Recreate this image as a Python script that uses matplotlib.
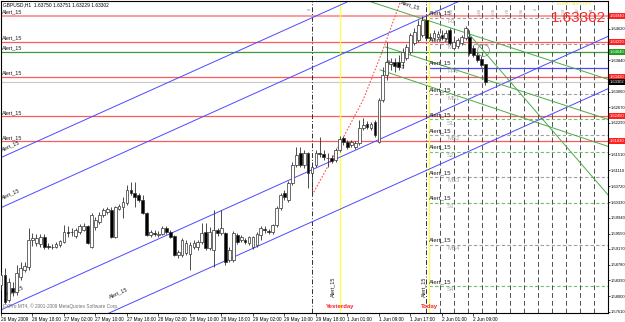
import matplotlib
matplotlib.use("Agg")
import matplotlib.pyplot as plt

plt.rcParams['font.family'] = ['Liberation Sans', 'DejaVu Sans']

title = "GBPUSD,H1  1.63750 1.63751 1.63229 1.63302"
last_price = 1.63302

# hourly candles, 26 May 10:00 .. 2 Jun 11:00
opens = [1.5828, 1.5852, 1.5791, 1.5820, 1.5810, 1.5847, 1.5865, 1.5872, 1.5939, 1.5932,
         1.5929, 1.5946, 1.5924, 1.5922, 1.5922, 1.5927, 1.5934, 1.5959, 1.5959, 1.5949,
         1.5959, 1.5964, 1.5974, 1.5922, 1.5971, 1.5984, 1.6001, 1.6008, 1.6013, 1.5946,
         1.6016, 1.6021, 1.6031, 1.6063, 1.6055, 1.6050, 1.6038, 1.6006, 1.5951, 1.5956,
         1.5951, 1.5954, 1.5969, 1.5959, 1.5949, 1.5902, 1.5902, 1.5907, 1.5904, 1.5922,
         1.5922, 1.5934, 1.5959, 1.5919, 1.5914, 1.5964, 1.5956, 1.5956, 1.5890, 1.5890,
         1.5951, 1.5939, 1.5939, 1.5932, 1.5922, 1.5927, 1.5951, 1.5966, 1.5961, 1.5959,
         1.5976, 1.6018, 1.6055, 1.6038, 1.6080, 1.6125, 1.6154, 1.6125, 1.6154, 1.6105,
         1.6125, 1.6154, 1.6152, 1.6142, 1.6142, 1.6137, 1.6162, 1.6191, 1.6182, 1.6174,
         1.6169, 1.6179, 1.6216, 1.6226, 1.6216, 1.6231, 1.6182, 1.6286, 1.6347, 1.6375,
         1.6380, 1.6380, 1.6380, 1.6389, 1.6404, 1.6427, 1.6434, 1.6446, 1.6483, 1.6441,
         1.6439, 1.6441, 1.6446, 1.6439, 1.6459, 1.6414, 1.6419, 1.6427, 1.6439, 1.6441,
         1.6414, 1.6397, 1.6387, 1.63750]
highs = [1.5860, 1.5870, 1.5845, 1.5835, 1.5877, 1.5885, 1.5885, 1.5969, 1.5956, 1.5954,
         1.5954, 1.5954, 1.5932, 1.5929, 1.5934, 1.5939, 1.5976, 1.5974, 1.5969, 1.5969,
         1.5979, 1.5981, 1.5976, 1.6006, 1.5996, 1.6008, 1.6018, 1.6021, 1.6021, 1.6023,
         1.6028, 1.6045, 1.6075, 1.6083, 1.6083, 1.6055, 1.6050, 1.6008, 1.5964, 1.5964,
         1.5961, 1.5974, 1.5974, 1.5964, 1.5951, 1.5914, 1.5944, 1.5939, 1.5934, 1.5939,
         1.5939, 1.5981, 1.5981, 1.5971, 1.6013, 1.5969, 1.6013, 1.5959, 1.5922, 1.5961,
         1.5956, 1.5951, 1.5944, 1.5949, 1.5949, 1.5959, 1.5974, 1.5974, 1.5966, 1.5979,
         1.6023, 1.6055, 1.6063, 1.6085, 1.6132, 1.6169, 1.6169, 1.6162, 1.6157, 1.6132,
         1.6162, 1.6194, 1.6162, 1.6154, 1.6149, 1.6167, 1.6196, 1.6196, 1.6187, 1.6187,
         1.6184, 1.6236, 1.6241, 1.6234, 1.6231, 1.6236, 1.6290, 1.6367, 1.6429, 1.6389,
         1.6389, 1.6397, 1.6414, 1.6424, 1.6451, 1.6464, 1.6483, 1.6493, 1.6496, 1.6451,
         1.6459, 1.6456, 1.6459, 1.6459, 1.6464, 1.6434, 1.6439, 1.6446, 1.6469, 1.6459,
         1.6422, 1.6404, 1.6394, 1.63751]
lows = [1.5815, 1.5781, 1.5786, 1.5800, 1.5803, 1.5840, 1.5860, 1.5865, 1.5924, 1.5924,
        1.5922, 1.5917, 1.5917, 1.5917, 1.5919, 1.5922, 1.5932, 1.5946, 1.5949, 1.5944,
        1.5954, 1.5961, 1.5929, 1.5919, 1.5964, 1.5979, 1.5996, 1.6003, 1.5944, 1.5944,
        1.6013, 1.5993, 1.6026, 1.6050, 1.6021, 1.6033, 1.6003, 1.5949, 1.5946, 1.5949,
        1.5946, 1.5951, 1.5954, 1.5944, 1.5899, 1.5894, 1.5897, 1.5902, 1.5865, 1.5917,
        1.5914, 1.5929, 1.5914, 1.5914, 1.5872, 1.5949, 1.5951, 1.5877, 1.5885, 1.5885,
        1.5929, 1.5934, 1.5929, 1.5927, 1.5917, 1.5922, 1.5939, 1.5956, 1.5954, 1.5954,
        1.5971, 1.6013, 1.6038, 1.6033, 1.6075, 1.6120, 1.6120, 1.6117, 1.6068, 1.6050,
        1.6120, 1.6144, 1.6137, 1.6120, 1.6130, 1.6132, 1.6157, 1.6174, 1.6164, 1.6169,
        1.6164, 1.6174, 1.6211, 1.6214, 1.6211, 1.6194, 1.6179, 1.6281, 1.6335, 1.6360,
        1.6355, 1.6360, 1.6365, 1.6385, 1.6399, 1.6422, 1.6429, 1.6441, 1.6434, 1.6434,
        1.6434, 1.6436, 1.6434, 1.6434, 1.6422, 1.6409, 1.6414, 1.6422, 1.6434, 1.6397,
        1.6392, 1.6380, 1.6367, 1.63229]
closes = [1.5852, 1.5786, 1.5835, 1.5810, 1.5857, 1.5870, 1.5875, 1.5939, 1.5944, 1.5944,
          1.5946, 1.5922, 1.5922, 1.5921, 1.5929, 1.5936, 1.5959, 1.5956, 1.5958, 1.5964,
          1.5974, 1.5974, 1.5932, 1.6001, 1.5989, 1.6001, 1.6013, 1.6016, 1.5946, 1.6021,
          1.6023, 1.6033, 1.6063, 1.6055, 1.6045, 1.6038, 1.6006, 1.5951, 1.5959, 1.5955,
          1.5954, 1.5969, 1.5959, 1.5946, 1.5902, 1.5909, 1.5939, 1.5932, 1.5927, 1.5932,
          1.5934, 1.5956, 1.5919, 1.5959, 1.5964, 1.5956, 1.5969, 1.5885, 1.5914, 1.5956,
          1.5934, 1.5946, 1.5934, 1.5946, 1.5946, 1.5954, 1.5969, 1.5964, 1.5959, 1.5976,
          1.6018, 1.6050, 1.6045, 1.6080, 1.6125, 1.6149, 1.6125, 1.6154, 1.6105, 1.6120,
          1.6154, 1.6152, 1.6144, 1.6141, 1.6135, 1.6162, 1.6189, 1.6182, 1.6169, 1.6182,
          1.6179, 1.6216, 1.6224, 1.6219, 1.6226, 1.6199, 1.6286, 1.6347, 1.6380, 1.6380,
          1.6370, 1.6367, 1.6404, 1.6417, 1.6446, 1.6454, 1.6471, 1.6483, 1.6439, 1.6440,
          1.6451, 1.6449, 1.6439, 1.6451, 1.6427, 1.6429, 1.6434, 1.6441, 1.6464, 1.6402,
          1.6397, 1.6385, 1.6372, 1.63302]

time_ticks = [0, 8, 16, 24, 32, 40, 48, 56, 64, 72, 80, 88, 96, 104, 112, 120]
time_labels = ["26 May 2009", "26 May 18:00", "27 May 02:00", "27 May 10:00", "27 May 18:00",
               "28 May 02:00", "28 May 10:00", "28 May 18:00", "29 May 02:00", "29 May 10:00",
               "29 May 18:00", "1 Jun 01:00", "1 Jun 09:00", "1 Jun 17:00", "2 Jun 01:00",
               "2 Jun 09:00"]
price_ticks = [1.6462, 1.6384, 1.6306, 1.6267, 1.6229, 1.6151, 1.6111, 1.6072, 1.6033,
               1.5994, 1.5955, 1.5917, 1.5878, 1.5839, 1.5800, 1.5761]

red_alerts = [1.6494, 1.6429, 1.6342, 1.6245, 1.6183]
green_alert = 1.6404

pivot_names = ["R1", "MR1", "FPV", "MS1", "S1", "MS2", "S2", "MS3", "S3", "MS4", "S4"]
pivot_levels = [1.6489, 1.6424, 1.6365, 1.6300, 1.6238, 1.6199, 1.6157, 1.6095, 1.6031, 1.5927, 1.5825]

blue_lines = [((0, 1.6143), (100, 1.6581)), ((0, 1.6019), (100, 1.6458)),
              ((0, 1.5766), (100, 1.6205)), ((0, 1.5638), (100, 1.6076))]
green_lines = [((92.5, 1.6533), (154.7, 1.6335)), ((97.6, 1.6417), (154.7, 1.6236)),
               ((96.3, 1.6360), (154.7, 1.6169)), ((118.4, 1.6454), (154.7, 1.6045))]
red_arc_x = [79.06, 85.4, 92.0, 96.8, 101.4]
red_arc_y = [1.6050, 1.6164, 1.6286, 1.6404, 1.6528]

sep_lines = [79.06, 108.0]
day_lines = [86.2, 108.8]
hour_lines = [111.55, 115.1, 118.65, 122.2, 125.76, 129.3, 132.87, 136.4, 139.97,
              143.5, 147.08, 150.63]
top_marks = ["8", "0.59", "1.08", "1.48", "1.68", "1.78", "1.96", "2", "2.34", "25", "84"]
top_mark_x = [79.06, 111.55, 115.1, 122.2, 125.76, 129.3, 132.87, 136.4, 143.5, 147.08, 150.63]

fig = plt.figure(figsize=(6.25, 3.22), dpi=100)
ax = fig.add_axes([1 / 625, 9 / 322, 607 / 625, 312 / 322])
ax.set_xlim(0.127, 154.19)
ax.set_ylim(1.57583, 1.65305)
for s in ax.spines.values():
    s.set_color('black')
    s.set_linewidth(0.8)

# horizontal alert lines (full width)
ax.axhline(red_alerts[0], color='#ff9a9a', lw=1.4, zorder=1)
for v in red_alerts[1:]:
    ax.axhline(v, color='#ff5a5a', lw=0.9, zorder=1)
ax.axhline(green_alert, color='#3c9a3c', lw=0.9, zorder=1)
ax.axhline(last_price, color='#c8c8c8', lw=0.8, zorder=1)

# pivot levels from today's line
for name, v in zip(pivot_names, pivot_levels):
    if name == "FPV":
        ax.hlines(v, day_lines[1], 155, color='#4a4aff', lw=0.9, zorder=1)
    elif name.startswith("S"):
        ax.hlines(v, day_lines[1], 155, color='#6cc46c', lw=0.8, linestyles=(0, (3, 2)), zorder=1)
    else:
        ax.hlines(v, day_lines[1], 155, color='#a0a0a0', lw=0.8, linestyles=(0, (3, 2)), zorder=1)
    ax.annotate("Alert_15", (day_lines[1], v), xytext=(0, 1.5), textcoords='offset points',
                fontsize=4.3, color='#202020', va='bottom', ha='left')
    ax.annotate(name, (day_lines[1] + 4.5, v), xytext=(0, -1), textcoords='offset points',
                fontsize=4.3, color='#a8a8a8', va='top', ha='left')

for v in red_alerts + [green_alert]:
    ax.annotate("Alert_15", (0.3, v), xytext=(0, 1), textcoords='offset points',
                fontsize=4.0, color='#202020', va='bottom', ha='left')

# vertical separators
for xv in sep_lines:
    ax.axvline(xv, color='#303030', lw=0.7, ls=(0, (5, 2, 1, 2)), zorder=1)
for xv in day_lines:
    ax.axvline(xv, color='#ffff40', lw=0.9, zorder=1)
for xv in hour_lines:
    ax.axvline(xv, color='#505050', lw=0.7, ls=(0, (5, 3)), zorder=1)
for t, xv in zip(top_marks, top_mark_x):
    ax.annotate(t, (xv, 1.65305), xytext=(-1.5, -5), textcoords='offset points',
                fontsize=3.0, color='#909090', rotation=90, va='top', ha='center')

# trend lines
for p1, p2 in blue_lines:
    ax.axline(p1, p2, color='#4a4aff', lw=0.7, zorder=2)
for p1, p2 in green_lines:
    ax.plot([p1[0], p2[0]], [p1[1], p2[1]], color='#4caa4c', lw=0.7, zorder=2)
ax.plot(red_arc_x, red_arc_y, color='#ff5050', lw=0.8, ls=(0, (1.5, 1.5)), zorder=2)

# rotated line labels
rot_labels = [(0.4, 1.6157, 24), (0.4, 1.6038, 24), (1.2, 1.5798, 24), (27.8, 1.5793, 24),
              (101.4, 1.6523, -18), (97.6, 1.6377, -18)]
for xv, yv, r in rot_labels:
    ax.text(xv, yv, "Alert_15", fontsize=4.0, color='#202020', rotation=r,
            rotation_mode='anchor', va='bottom', ha='left')
ax.text(84.3, 0.05, "Alert_15", transform=ax.get_xaxis_transform(), fontsize=4.0,
        color='#202020', rotation=90, va='bottom', ha='center')
ax.text(107.4, 0.05, "Alert_15", transform=ax.get_xaxis_transform(), fontsize=4.0,
        color='#202020', rotation=90, va='bottom', ha='center')

# candles
xs = list(range(len(opens)))
ax.vlines(xs, lows, highs, color='#303030', lw=0.6, zorder=3)
bottoms = [min(o, c) for o, c in zip(opens, closes)]
heights = [max(abs(c - o), 0.00004) for o, c in zip(opens, closes)]
colors = ['white' if c >= o else 'black' for o, c in zip(opens, closes)]
ax.bar(xs, heights, 0.7, bottom=bottoms, color=colors, edgecolor='#303030', lw=0.5, zorder=4)

ax.plot([122.5], [1.6409], marker='o', ms=8.5, mfc='none', mec='#909090', mew=0.6, zorder=5)

# texts
ax.text(0.004, 0.995, title, transform=ax.transAxes, fontsize=3.5, va='top', ha='left')
ax.text(0.004, 0.012, "FXPro MT4, \u00a9 2001-2009 MetaQuotes Software Corp.", transform=ax.transAxes,
        fontsize=3.4, color='#707070', va='bottom', ha='left')
ax.text(day_lines[0], 0.012, "Yesterday", transform=ax.get_xaxis_transform(), fontsize=4.3,
        color='#ff2020', fontweight='bold', ha='center', va='bottom')
ax.text(day_lines[1], 0.012, "Today", transform=ax.get_xaxis_transform(), fontsize=4.3,
        color='#ff2020', fontweight='bold', ha='center', va='bottom')
fig.text(606 / 625, 1 - 18 / 322, "1.63302", fontsize=11, color='#ff2a2a', ha='right', va='center')
fig.text(574 / 625, 1 - 4 / 322, "ALERT MSG OFF", fontsize=3.1, color='#e8e840', ha='center', va='center')

# axes ticks
ax.set_xticks(time_ticks)
ax.set_xticklabels(time_labels, ha='left')
ax.tick_params(axis='x', labelsize=3.4, length=2, width=0.5, pad=1)
ax.yaxis.tick_right()
ax.set_yticks(price_ticks)
ax.set_yticklabels([f"{v:.5f}" for v in price_ticks])
ax.tick_params(axis='y', labelsize=3.0, length=1.5, width=0.5, pad=0.5)

# price boxes on the right scale
boxes = [(v, '#ff2020') for v in red_alerts] + [(green_alert, '#20a020'), (last_price, 'black')]
for v, c in boxes:
    ax.annotate(f"{v:.5f}", (1, v), xycoords=('axes fraction', 'data'), xytext=(1.2, 0),
                textcoords='offset points', fontsize=3.0, color='white', va='center', ha='left',
                annotation_clip=False,
                bbox=dict(boxstyle='square,pad=0.25', fc=c, ec='none'))

fig.savefig("out.png", dpi=100)
